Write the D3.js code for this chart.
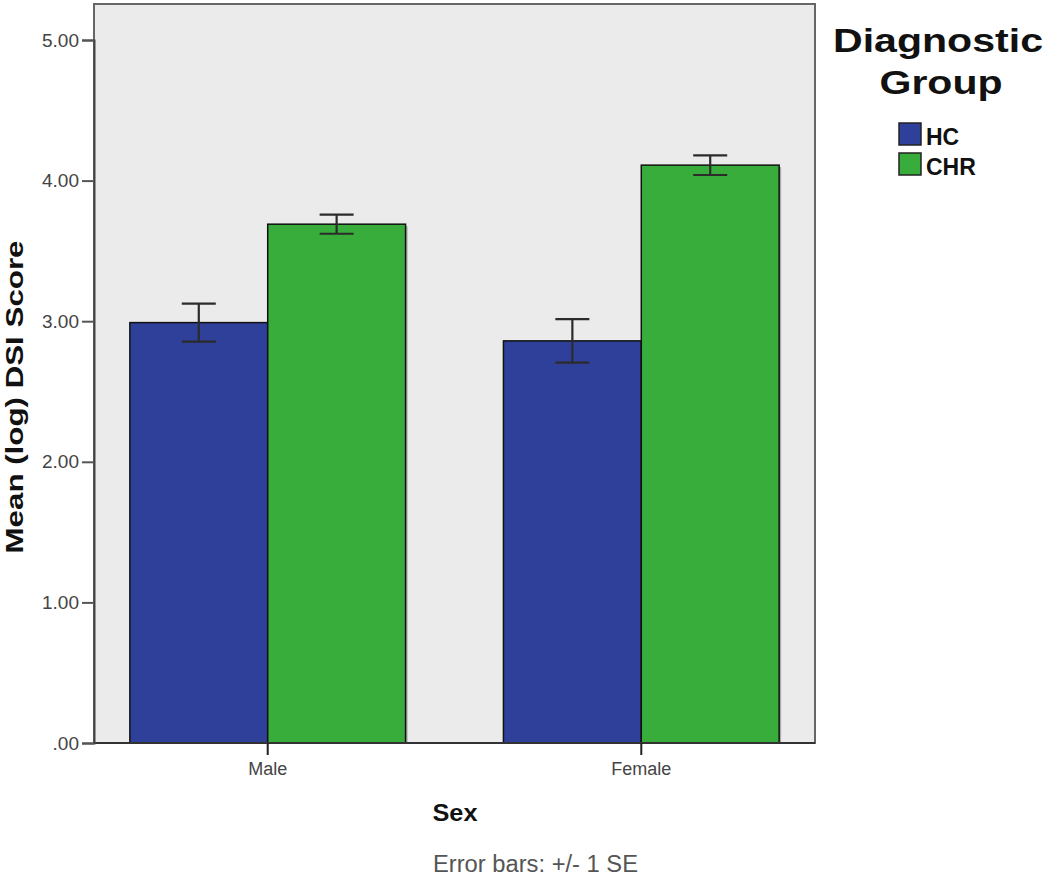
<!DOCTYPE html>
<html>
<head>
<meta charset="utf-8">
<script src="https://d3js.org/d3.v7.min.js"></script>
<style>
  body { margin: 0; background: #fff; }
  svg { display: block; font-family: Arial, "Liberation Sans", sans-serif; }
</style>
</head>
<body>
<div id="chart"></div>
<script>
// data
const sexes = ["Male", "Female"];
const groups = ["HC", "CHR"];
const hcMeans = [2.99, 2.86];
const chrMeans = [3.69, 4.11];
const hcSE = [0.135, 0.155];
const chrSE = [0.068, 0.07];
const yTicks = [0, 1, 2, 3, 4, 5];

const colors = { HC: "#2f409a", CHR: "#39ad3b" };

const W = 1050, H = 876;
const plot = { left: 94, right: 815, top: 4, bottom: 743 };

const rows = [];
sexes.forEach((s, i) => {
    rows.push({ sex: s, group: "HC", mean: hcMeans[i], se: hcSE[i] });
    rows.push({ sex: s, group: "CHR", mean: chrMeans[i], se: chrSE[i] });
});

const svg = d3.select("#chart")
    .append("svg")
    .attr("width", W)
    .attr("height", H);

// scales
const x = d3.scaleBand()
    .domain(sexes)
    .range([plot.left, plot.right])
    .paddingInner(0.262)
    .paddingOuter(0.096);

const xg = d3.scaleBand()
    .domain(groups)
    .range([0, x.bandwidth()]);

const y = d3.scaleLinear()
    .domain([0, 5])
    .range([plot.bottom, 40]);

// plot background
svg.append("rect")
    .attr("x", plot.left)
    .attr("y", plot.top)
    .attr("width", plot.right - plot.left)
    .attr("height", plot.bottom - plot.top)
    .attr("fill", "#ebebeb")
    .attr("stroke", "#666")
    .attr("stroke-width", 2);

// bar shadows
svg.selectAll(".shadow")
    .data(rows)
    .enter()
    .append("rect")
    .attr("x", d => x(d.sex) + xg(d.group) + 2)
    .attr("y", d => y(d.mean) + 2)
    .attr("width", xg.bandwidth())
    .attr("height", d => y(0) - y(d.mean) - 2)
    .attr("fill", "#aaa");

// bars
svg.selectAll(".bar")
    .data(rows)
    .enter()
    .append("rect")
    .attr("class", "bar")
    .attr("x", d => x(d.sex) + xg(d.group))
    .attr("y", d => y(d.mean))
    .attr("width", xg.bandwidth())
    .attr("height", d => y(0) - y(d.mean))
    .attr("fill", d => colors[d.group])
    .attr("stroke", "#111")
    .attr("stroke-width", 1.5);

// error bars
const cap = 17;
const err = svg.selectAll(".err")
    .data(rows)
    .enter()
    .append("g")
    .attr("class", "err")
    .attr("stroke", "#2b2b2b")
    .attr("stroke-width", 2.2);

err.append("line")
    .attr("x1", d => x(d.sex) + xg(d.group) + xg.bandwidth() / 2)
    .attr("x2", d => x(d.sex) + xg(d.group) + xg.bandwidth() / 2)
    .attr("y1", d => y(d.mean + d.se))
    .attr("y2", d => y(d.mean - d.se));

err.append("line")
    .attr("x1", d => x(d.sex) + xg(d.group) + xg.bandwidth() / 2 - cap)
    .attr("x2", d => x(d.sex) + xg(d.group) + xg.bandwidth() / 2 + cap)
    .attr("y1", d => y(d.mean + d.se))
    .attr("y2", d => y(d.mean + d.se));

err.append("line")
    .attr("x1", d => x(d.sex) + xg(d.group) + xg.bandwidth() / 2 - cap)
    .attr("x2", d => x(d.sex) + xg(d.group) + xg.bandwidth() / 2 + cap)
    .attr("y1", d => y(d.mean - d.se))
    .attr("y2", d => y(d.mean - d.se));

// bottom axis line
svg.append("line")
    .attr("x1", plot.left)
    .attr("x2", plot.right)
    .attr("y1", plot.bottom)
    .attr("y2", plot.bottom)
    .attr("stroke", "#333")
    .attr("stroke-width", 2);

// y axis
const fmt = v => d3.format(".2f")(v).replace(/^0\./, ".");
const yAxis = svg.append("g")
    .attr("transform", `translate(${plot.left},0)`)
    .call(d3.axisLeft(y).tickValues(yTicks).tickFormat(fmt).tickSize(12).tickPadding(3));
yAxis.select(".domain").attr("stroke", "#444").attr("stroke-width", 2);
yAxis.selectAll(".tick line").attr("stroke", "#555").attr("stroke-width", 2);
yAxis.selectAll(".tick text")
    .attr("fill", "#444")
    .style("font-size", "19px")
    .style("font-family", "Arial, 'Liberation Sans', sans-serif");

// x axis
const xAxis = svg.append("g")
    .attr("transform", `translate(0,${plot.bottom})`)
    .call(d3.axisBottom(x).tickSize(12).tickPadding(7));
xAxis.select(".domain").remove();
xAxis.selectAll(".tick line").attr("stroke", "#222").attr("stroke-width", 2);
xAxis.selectAll(".tick text")
    .attr("fill", "#444")
    .style("font-size", "18px")
    .style("font-family", "Arial, 'Liberation Sans', sans-serif");

// axis titles
svg.append("text")
    .attr("transform", "translate(23,397) rotate(-90)")
    .attr("text-anchor", "middle")
    .attr("textLength", 313)
    .attr("lengthAdjust", "spacingAndGlyphs")
    .style("font-size", "23px")
    .style("font-weight", "bold")
    .attr("fill", "#111")
    .text("Mean (log) DSI Score");

svg.append("text")
    .attr("x", 455)
    .attr("y", 821)
    .attr("text-anchor", "middle")
    .attr("textLength", 45)
    .attr("lengthAdjust", "spacingAndGlyphs")
    .style("font-size", "24px")
    .style("font-weight", "bold")
    .attr("fill", "#111")
    .text("Sex");

svg.append("text")
    .attr("x", 433)
    .attr("y", 872)
    .attr("textLength", 205)
    .attr("lengthAdjust", "spacingAndGlyphs")
    .style("font-size", "23px")
    .attr("fill", "#555")
    .text("Error bars: +/- 1 SE");

// legend
svg.append("text")
    .attr("x", 938)
    .attr("y", 52)
    .attr("text-anchor", "middle")
    .attr("textLength", 210)
    .attr("lengthAdjust", "spacingAndGlyphs")
    .style("font-size", "34px")
    .style("font-weight", "bold")
    .attr("fill", "#111")
    .text("Diagnostic");

svg.append("text")
    .attr("x", 941)
    .attr("y", 94)
    .attr("text-anchor", "middle")
    .attr("textLength", 123)
    .attr("lengthAdjust", "spacingAndGlyphs")
    .style("font-size", "34px")
    .style("font-weight", "bold")
    .attr("fill", "#111")
    .text("Group");

const leg = svg.selectAll(".legend")
    .data(groups)
    .enter()
    .append("g")
    .attr("class", "legend")
    .attr("transform", (d, i) => `translate(899,${123 + i * 30})`);

leg.append("rect")
    .attr("width", 22)
    .attr("height", 22)
    .attr("fill", d => colors[d])
    .attr("stroke", "#222")
    .attr("stroke-width", 1.5);

leg.append("text")
    .attr("x", 27)
    .attr("y", 22)
    .style("font-size", "23px")
    .style("font-weight", "bold")
    .style("font-family", "'Liberation Sans Narrow', 'Arial Narrow', Arial, sans-serif")
    .attr("fill", "#111")
    .text(d => d);
</script>
</body>
</html>
